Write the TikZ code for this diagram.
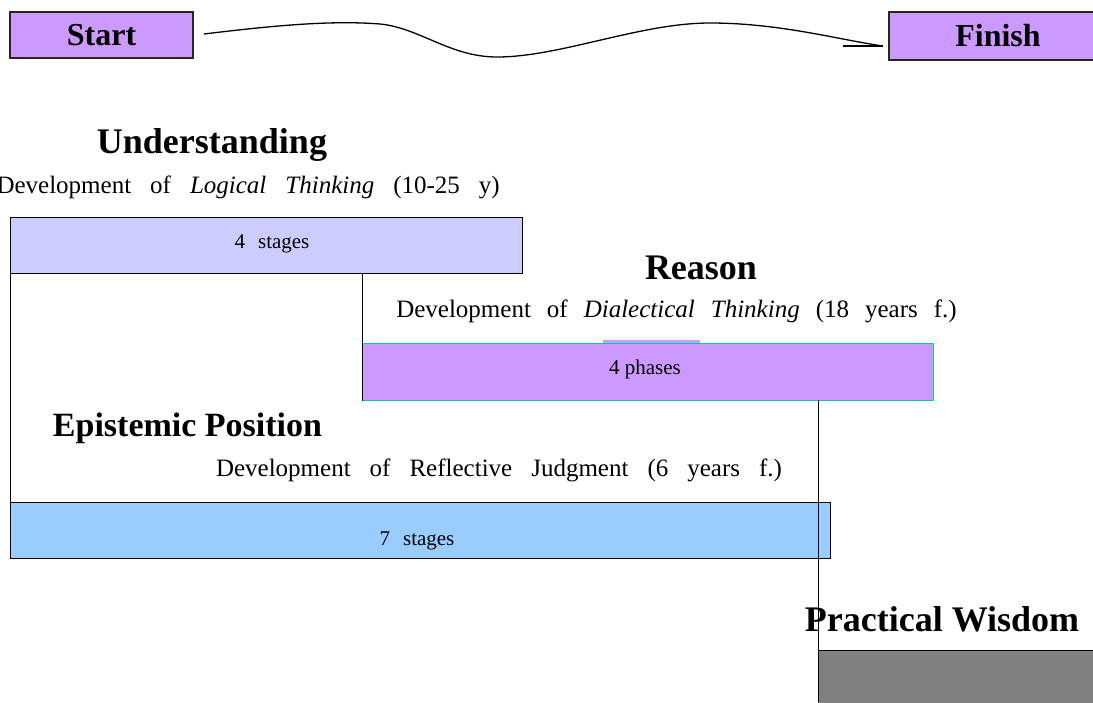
\documentclass[tikz,border=0pt]{standalone}
\usepackage{fontspec}
\setmainfont{Liberation Serif}
\definecolor{lav}{HTML}{CC99FF}
\definecolor{lblue}{HTML}{CCCCFF}
\definecolor{sky}{HTML}{99CCFF}
\definecolor{tealb}{HTML}{00CC99}
\definecolor{grayb}{HTML}{808080}
\begin{document}
\begin{tikzpicture}[x=1pt,y=-1pt,
  title/.style={font=\fontsize{36}{42}\selectfont\bfseries, inner sep=0pt, anchor=base},
  endtitle/.style={font=\fontsize{32}{38}\selectfont\bfseries},
  sub/.style={font={\fontsize{25}{29}\selectfont\spaceskip=#1pt plus 1pt minus 1pt}, inner sep=0pt, anchor=base},
  lab/.style={font={\fontsize{21}{24}\selectfont\spaceskip=13pt}, inner sep=0pt, anchor=base},
  band/.style={rectangle, inner sep=0pt, anchor=north west, line width=0.9pt, draw=black},
  endbox/.style={rectangle, inner sep=0pt, fill=lav, draw=black!85, line width=1.5pt},
  curve/.style={line width=1.3pt},
  rule/.style={line width=0.9pt, draw=black}]
\useasboundingbox (0,0) rectangle (1093,702);
\clip (0,0) rectangle (1093,702);

% top bar
\node[endbox, endtitle, minimum width=183pt, minimum height=46pt] (start) at (101.5,35) {Start};
\node[endbox, endtitle, minimum width=218pt, minimum height=48pt] (finish) at (998,36) {Finish};
\coordinate (c0) at (204,34);
\coordinate (c1) at (883,46);
\coordinate (c2) at (843,46);
\draw[curve] (c0) .. controls (270,26) and (330,20) .. (380,24)
  .. controls (420,28) and (450,57) .. (497,57)
  .. controls (560,57) and (640,23) .. (710,23)
  .. controls (780,23) and (840,40) .. (c1);
\draw[line width=2.2pt] (c2) -- (c1);

% bands
\node[band, fill=lblue, minimum width=512pt, minimum height=56pt] (s4) at (10,217) {};
\node[band, fill=lav, draw=tealb, line width=1.1pt, minimum width=571pt, minimum height=57pt] (p4) at (362,343) {};
\fill[lav] (603,340.3) rectangle (700,342.6);
\node[band, fill=sky, minimum width=820pt, minimum height=56pt] (s7) at (10,502) {};
\node[rectangle, inner sep=0pt, anchor=north west, fill=grayb, minimum width=290pt, minimum height=60pt] (pw) at (818,650) {};
\draw[rule] (pw.north west) -- (pw.north east);

% connecting rules
\coordinate (r1) at (362,273);
\coordinate (w1) at (818,400);
\coordinate (w2) at (818,702);
\draw[rule] (s4.south west) -- (s7.north west);
\draw[rule] (r1) -- (p4.south west);
\draw[rule] (w1) -- (w2);

% texts
\node[title] (tu) at (212,153) {Understanding};
\node[sub=19, anchor=base east] (du) at (500,193) {Development of \textit{Logical Thinking} (10-25 y)};
\node[lab] (l4s) at (272,248) {4 stages};
\node[title] (tr) at (701,279) {Reason};
\node[sub=16] (dr) at (676.5,317) {Development of \textit{Dialectical Thinking} (18 years f.)};
\node[lab, font=\fontsize{21}{24}\selectfont] (l4p) at (645,374) {4 phases};
\node[title, font=\fontsize{34}{40}\selectfont\bfseries] (te) at (187.5,436) {Epistemic Position};
\node[sub=19] (de) at (499,476) {Development of Reflective Judgment (6 years f.)};
\node[lab] (l7s) at (417,545) {7 stages};
\node[title] (tp) at (942,631) {Practical Wisdom};
\end{tikzpicture}
\end{document}
